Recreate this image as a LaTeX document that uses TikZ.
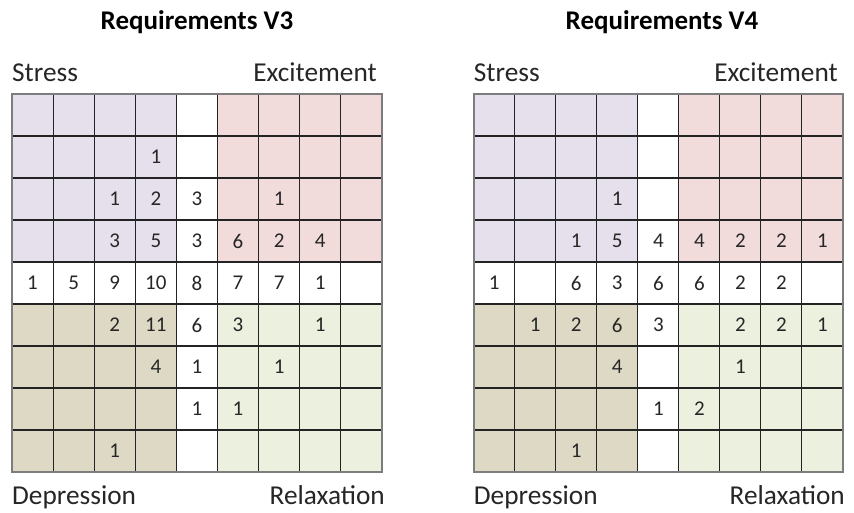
\documentclass[tikz,border=0pt]{standalone}
\usepackage{fontspec}
\setmainfont{Carlito}
\definecolor{stresscol}{RGB}{229,224,236}
\definecolor{excitecol}{RGB}{242,220,219}
\definecolor{depresscol}{RGB}{221,217,196}
\definecolor{relaxcol}{RGB}{235,241,222}
\definecolor{bordercol}{RGB}{125,125,125}
\definecolor{linecol}{RGB}{35,35,35}
\begin{document}
\begin{tikzpicture}[x=1pt,y=-1pt]
\tikzstyle{every node}+=[inner sep=0pt]
\tikzstyle{cellline}=[linecol,line width=1.1pt]
\tikzstyle{outerline}=[bordercol,line width=2pt]
\tikzstyle{cellnum}=[font=\fontsize{21}{21}\selectfont,text=black!85]
\tikzstyle{quadlabel}=[font=\fontsize{27.3}{27.3}\selectfont,text=black!85]
\tikzstyle{gridtitle}=[font=\fontsize{27}{27}\selectfont\bfseries,anchor=base]
\useasboundingbox (0,0) rectangle (854,513);
\fill[white] (0,0) rectangle (854,513);
% left grid
\node[gridtitle] (title3) at (197,29.5) {Requirements V3};
\node[quadlabel,anchor=base west] (stress3) at (12,82) {Stress};
\node[quadlabel,anchor=base east] (excite3) at (377,82) {Excitement};
\node[quadlabel,anchor=base west] (depress3) at (12,504) {Depression};
\node[quadlabel,anchor=base east] (relax3) at (385,504) {Relaxation};
\begin{scope}[shift={(12,94)},x=41.1pt,y=-42pt]
\fill[stresscol] (0,0) rectangle (4,4);
\fill[excitecol] (5,0) rectangle (9,4);
\fill[depresscol] (0,5) rectangle (4,9);
\fill[relaxcol] (5,5) rectangle (9,9);
\foreach \i in {1,...,8} {
  \draw[cellline] (\i,0) -- (\i,9);
  \draw[cellline] (0,\i) -- (9,\i);
}
\draw[outerline] (0,0) rectangle (9,9);
\foreach \r/\c/\v in {1/3/1, 2/2/1, 2/3/2, 2/4/3, 2/6/1,
  3/2/3, 3/3/5, 3/4/3, 3/5/6, 3/6/2, 3/7/4,
  4/0/1, 4/1/5, 4/2/9, 4/3/10, 4/4/8, 4/5/7, 4/6/7, 4/7/1,
  5/2/2, 5/3/11, 5/4/6, 5/5/3, 5/7/1,
  6/3/4, 6/4/1, 6/6/1, 7/4/1, 7/5/1, 8/2/1}
  \node[cellnum] (v3-\r-\c) at (\c+0.5,\r+0.5) {\v};
\end{scope}
% right grid
\node[gridtitle] (title4) at (662,29.5) {Requirements V4};
\node[quadlabel,anchor=base west] (stress4) at (473.7,82) {Stress};
\node[quadlabel,anchor=base east] (excite4) at (838,82) {Excitement};
\node[quadlabel,anchor=base west] (depress4) at (473.7,504) {Depression};
\node[quadlabel,anchor=base east] (relax4) at (845,504) {Relaxation};
\begin{scope}[shift={(473.7,94)},x=41.03pt,y=-42pt]
\fill[stresscol] (0,0) rectangle (4,4);
\fill[excitecol] (5,0) rectangle (9,4);
\fill[depresscol] (0,5) rectangle (4,9);
\fill[relaxcol] (5,5) rectangle (9,9);
\foreach \i in {1,...,8} {
  \draw[cellline] (\i,0) -- (\i,9);
  \draw[cellline] (0,\i) -- (9,\i);
}
\draw[outerline] (0,0) rectangle (9,9);
\foreach \r/\c/\v in {2/3/1,
  3/2/1, 3/3/5, 3/4/4, 3/5/4, 3/6/2, 3/7/2, 3/8/1,
  4/0/1, 4/2/6, 4/3/3, 4/4/6, 4/5/6, 4/6/2, 4/7/2,
  5/1/1, 5/2/2, 5/3/6, 5/4/3, 5/6/2, 5/7/2, 5/8/1,
  6/3/4, 6/6/1, 7/4/1, 7/5/2, 8/2/1}
  \node[cellnum] (v4-\r-\c) at (\c+0.5,\r+0.5) {\v};
\end{scope}
\end{tikzpicture}
\end{document}
